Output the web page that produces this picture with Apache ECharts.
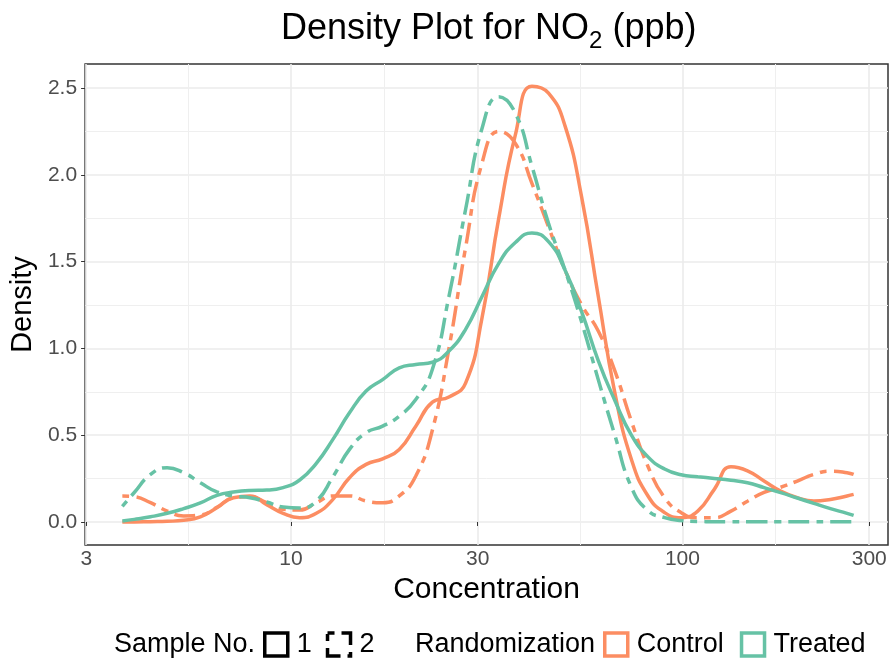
<!DOCTYPE html>
<html><head><meta charset="utf-8">
<script src="https://cdn.jsdelivr.net/npm/echarts@6/dist/echarts.min.js"></script>
<style>html,body{margin:0;padding:0;background:#fff}#c{width:893px;height:663px}</style>
</head><body><div id="c"></div>
<script>
// Concentration grid (ppb) at which the density curves were read
const concentration = [3.71, 3.98, 4.38, 4.83, 5.32, 5.87, 6.47, 7.13, 7.86, 8.67, 9.55, 10.53, 11.61, 12.8, 14.11, 15.56, 17.15, 18.91, 20.84, 22.98, 25.33, 27.93, 30.79, 33.95, 37.43, 41.26, 45.49, 50.15, 55.29, 60.95, 67.2, 74.08, 81.66, 90.04, 99.2, 109.4, 120.6, 133.0, 146.6, 161.6, 178.2, 196.5, 216.6, 238.8, 263.3, 273.7];
// Control, sample 1 (solid)
const control1 = [0.0, 0.0, 0.002, 0.004, 0.01, 0.03, 0.082, 0.14, 0.15, 0.10, 0.05, 0.025, 0.05, 0.13, 0.255, 0.332, 0.364, 0.418, 0.552, 0.69, 0.72, 0.80, 1.18, 1.75, 2.23, 2.51, 2.47, 2.28, 1.87, 1.30, 0.744, 0.36, 0.15, 0.054, 0.025, 0.063, 0.188, 0.318, 0.295, 0.236, 0.178, 0.14, 0.121, 0.13, 0.15, 0.159];
// Control, sample 2 (dash)
const control2 = [0.15, 0.146, 0.111, 0.063, 0.035, 0.04, 0.085, 0.14, 0.146, 0.111, 0.073, 0.069, 0.111, 0.15, 0.15, 0.121, 0.111, 0.15, 0.265, 0.53, 1.0, 1.58, 2.07, 2.25, 2.18, 1.95, 1.70, 1.45, 1.25, 1.10, 0.87, 0.58, 0.32, 0.14, 0.054, 0.025, 0.025, 0.063, 0.12, 0.17, 0.2, 0.236, 0.274, 0.293, 0.284, 0.274];
// Treated, sample 1 (solid)
const treated1 = [0.006, 0.015, 0.03, 0.05, 0.077, 0.11, 0.153, 0.173, 0.182, 0.184, 0.198, 0.242, 0.338, 0.476, 0.629, 0.754, 0.82, 0.888, 0.907, 0.92, 0.985, 1.11, 1.30, 1.49, 1.61, 1.665, 1.615, 1.45, 1.21, 0.93, 0.70, 0.50, 0.375, 0.305, 0.272, 0.261, 0.251, 0.24, 0.226, 0.198, 0.169, 0.138, 0.107, 0.077, 0.05, 0.038];
// Treated, sample 2 (dash)
const treated2 = [0.09, 0.17, 0.274, 0.313, 0.284, 0.226, 0.173, 0.15, 0.14, 0.115, 0.086, 0.08, 0.12, 0.26, 0.418, 0.514, 0.552, 0.61, 0.706, 0.88, 1.3, 1.8, 2.27, 2.45, 2.355, 2.05, 1.72, 1.45, 1.15, 0.82, 0.5, 0.2, 0.065, 0.025, 0.008, 0.003, 0.002, 0.002, 0.002, 0.002, 0.002, 0.002, 0.002, 0.002, 0.002, 0.002];

const xTicks = [3, 10, 30, 100, 300];
const xMinorTicks = [5.48, 17.3, 54.8, 173];
const yTicks = [0, 0.5, 1, 1.5, 2, 2.5];
const yMinorTicks = [0.25, 0.75, 1.25, 1.75, 2.25];
const sampleLevels = ['1', '2'];
const groupLevels = ['Control', 'Treated'];

const FONT = 'Liberation Sans, Arial, Helvetica, sans-serif';
const colors = { Control: '#FC8D62', Treated: '#66C2A5' };
const dashPattern = [7, 7, 21, 7];

function pairs(vals) { return concentration.map((c, i) => [c, vals[i]]); }

const curves = [
  { group: 'Control', sample: '1', vals: control1 },
  { group: 'Control', sample: '2', vals: control2 },
  { group: 'Treated', sample: '1', vals: treated1 },
  { group: 'Treated', sample: '2', vals: treated2 }
];

const series = curves.map(c => ({
  name: c.group + ' ' + c.sample,
  type: 'line',
  xAxisIndex: 0, yAxisIndex: 0,
  data: pairs(c.vals),
  smooth: 0.5,
  showSymbol: false,
  symbol: 'none',
  silent: true,
  lineStyle: {
    color: colors[c.group], width: 3.5,
    type: c.sample === '2' ? dashPattern : 'solid',
    cap: 'butt'
  },
  z: c.group === 'Treated' ? 3 : 2
}));
// legend-only series
sampleLevels.concat(groupLevels).forEach(n => series.push({ name: n, type: 'line', data: [], xAxisIndex: 0, yAxisIndex: 0 }));

const keyBase = { color: 'rgba(0,0,0,0)', borderWidth: 3.5 };
const legendText = { fontSize: 27, color: '#000', fontFamily: FONT, padding: [0, 0, 0, 4] };
const LEG_CY = 643;

const chart = echarts.init(document.getElementById('c'), null, { renderer: 'canvas' });
chart.setOption({
  animation: false,
  backgroundColor: '#fff',
  title: {
    left: 281,
    top: 11,
    padding: 0,
    text: '{a|Density Plot for NO}{s|2}{a| (ppb)}',
    textStyle: {
      fontWeight: 'normal',
      rich: {
        a: { fontSize: 36, fontFamily: FONT, fontWeight: 'normal', color: '#000', lineHeight: 44, verticalAlign: 'top' },
        s: { fontSize: 24, fontFamily: FONT, fontWeight: 'normal', color: '#000', lineHeight: 44, verticalAlign: 'top', padding: [18, 0, 0, 0] }
      }
    }
  },
  grid: { left: 81, right: 5, top: 64, bottom: 118, show: true, borderColor: '#333', borderWidth: 1.5, backgroundColor: 'rgba(0,0,0,0)' },
  xAxis: [
    {
      type: 'log', logBase: 10, min: 2.98, max: 335, position: 'bottom',
      name: 'Concentration', nameLocation: 'middle', nameGap: 27,
      nameTextStyle: { fontSize: 30, color: '#000', fontFamily: FONT },
      axisLine: { show: false },
      axisTick: { show: true, customValues: xTicks, length: 4, lineStyle: { color: '#333', width: 1 } },
      axisLabel: { customValues: xTicks, fontSize: 21, color: '#4D4D4D', fontFamily: FONT, margin: 4, alignMinLabel: 'center', alignMaxLabel: 'center', formatter: v => String(v) },
      splitLine: { show: true, lineStyle: { color: '#EBEBEB', width: 1.6 } },
      minorTick: { show: false }, minorSplitLine: { show: false }
    },
    {
      type: 'log', logBase: 10, min: 2.98, max: 335, position: 'bottom',
      axisLine: { show: false },
      axisTick: { show: false, customValues: xMinorTicks },
      axisLabel: { show: false, customValues: xMinorTicks },
      splitLine: { show: true, lineStyle: { color: '#EFEFEF', width: 1 } }
    }
  ],
  yAxis: [
    {
      type: 'value', min: -0.1325, max: 2.638, position: 'left',
      name: 'Density', nameLocation: 'middle', nameGap: 43,
      nameTextStyle: { fontSize: 29, color: '#000', fontFamily: FONT },
      axisLine: { show: false },
      axisTick: { show: true, customValues: yTicks, length: 4, lineStyle: { color: '#333', width: 1 } },
      axisLabel: { customValues: yTicks, fontSize: 21, color: '#4D4D4D', fontFamily: FONT, margin: 8, formatter: v => v.toFixed(1) },
      splitLine: { show: true, lineStyle: { color: '#EBEBEB', width: 1.6 } }
    },
    {
      type: 'value', min: -0.1325, max: 2.638, position: 'left',
      axisLine: { show: false },
      axisTick: { show: false, customValues: yMinorTicks },
      axisLabel: { show: false, customValues: yMinorTicks },
      splitLine: { show: true, lineStyle: { color: '#EFEFEF', width: 1 } }
    }
  ],
  legend: [
    {
      left: 263, top: LEG_CY - 12, padding: 0, orient: 'horizontal', selectedMode: false,
      itemWidth: 23, itemHeight: 23, itemGap: 14,
      textStyle: legendText,
      data: [
        { name: sampleLevels[0], icon: 'rect', itemStyle: Object.assign({ borderColor: '#000' }, keyBase) },
        { name: sampleLevels[1], icon: 'rect', itemStyle: Object.assign({ borderColor: '#000', borderType: dashPattern }, keyBase) }
      ]
    },
    {
      left: 603, top: LEG_CY - 12, padding: 0, orient: 'horizontal', selectedMode: false,
      itemWidth: 23, itemHeight: 23, itemGap: 16,
      textStyle: legendText,
      data: [
        { name: groupLevels[0], icon: 'rect', itemStyle: Object.assign({ borderColor: colors.Control }, keyBase) },
        { name: groupLevels[1], icon: 'rect', itemStyle: Object.assign({ borderColor: colors.Treated }, keyBase) }
      ]
    }
  ],
  graphic: [
    { type: 'text', x: 255, y: LEG_CY + 2, style: { text: 'Sample No.', fontSize: 27, fontFamily: FONT, fill: '#000', align: 'right', verticalAlign: 'middle' } },
    { type: 'text', x: 595, y: LEG_CY + 2, style: { text: 'Randomization', fontSize: 27, fontFamily: FONT, fill: '#000', align: 'right', verticalAlign: 'middle' } }
  ],
  series: series
});
</script>
</body></html>
